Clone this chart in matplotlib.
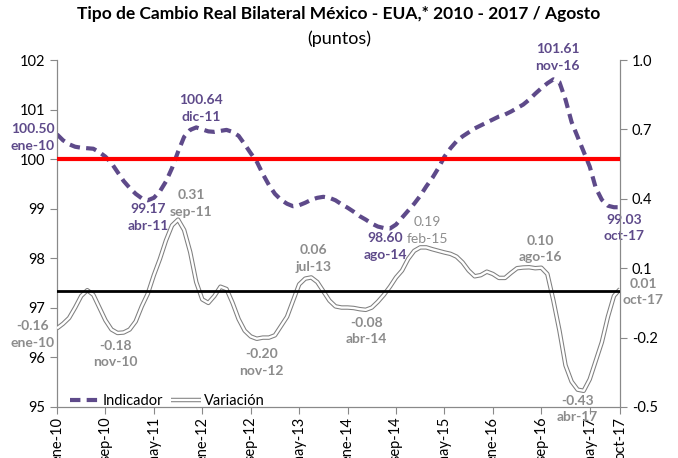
import matplotlib
matplotlib.use("Agg")
import matplotlib.pyplot as plt
from matplotlib.lines import Line2D
import numpy as np

plt.rcParams['font.family'] = ['Lato', 'DejaVu Sans']

# Monthly data, ene-10 .. oct-17
indicador = [100.50, 100.38, 100.30, 100.25, 100.23, 100.22, 100.21, 100.14, 100.05, 99.92,
             99.74, 99.56, 99.42, 99.30, 99.21, 99.17, 99.22, 99.35, 99.55, 99.82,
             100.15, 100.45, 100.59, 100.64, 100.60, 100.56, 100.55, 100.57, 100.59, 100.55,
             100.47, 100.30, 100.12, 99.95, 99.70, 99.48, 99.30, 99.18, 99.10, 99.05,
             99.07, 99.12, 99.18, 99.22, 99.24, 99.22, 99.17, 99.09, 99.02, 98.94,
             98.85, 98.78, 98.70, 98.64, 98.61, 98.60, 98.68, 98.82, 98.96, 99.10,
             99.26, 99.45, 99.62, 99.82, 100.05, 100.22, 100.36, 100.46, 100.54, 100.62,
             100.68, 100.74, 100.80, 100.86, 100.90, 100.96, 101.03, 101.10, 101.20, 101.32,
             101.43, 101.53, 101.61, 101.55, 101.20, 100.75, 100.45, 100.15, 99.85, 99.42,
             99.18, 99.06, 99.03, 99.03]

variacion = [-0.16, -0.14, -0.115, -0.07, -0.02, 0.005, -0.015, -0.07, -0.125, -0.165,
             -0.18, -0.178, -0.165, -0.13, -0.065, -0.01, 0.07, 0.14, 0.22, 0.285,
             0.31, 0.265, 0.17, 0.04, -0.035, -0.05, -0.02, 0.02, 0.01, -0.05,
             -0.12, -0.17, -0.195, -0.205, -0.20, -0.20, -0.19, -0.15, -0.11, -0.04,
             0.03, 0.055, 0.06, 0.04, 0.0, -0.04, -0.065, -0.07, -0.07, -0.072,
             -0.077, -0.08, -0.07, -0.045, -0.015, 0.02, 0.06, 0.09, 0.14, 0.175,
             0.19, 0.19, 0.182, 0.175, 0.168, 0.162, 0.15, 0.125, 0.09, 0.065,
             0.07, 0.085, 0.075, 0.058, 0.058, 0.08, 0.10, 0.103, 0.104, 0.10,
             0.102, 0.075, -0.04, -0.17, -0.32, -0.39, -0.425, -0.43, -0.38, -0.30,
             -0.22, -0.11, -0.02, 0.01]

tick_labels = ['ene-10', 'sep-10', 'may-11', 'ene-12', 'sep-12', 'may-13', 'ene-14',
               'sep-14', 'may-15', 'ene-16', 'sep-16', 'may-17', 'oct-17']

# labelled points: (month index, text, offset in pixels)
ind_notes = [(0, '100.50\nene-10', (-24, -3)), (15, '99.17\nabr-11', (0, -17)),
             (23, '100.64\ndic-11', (5, 19)), (55, '98.60\nago-14', (-5, -18)),
             (82, '101.61\nnov-16', (4, 22)), (93, '99.03\noct-17', (4, -21))]
var_notes = [(0, '-0.16\nene-10', (-24, -6)), (10, '-0.18\nnov-10', (-2, -21)),
             (20, '0.31\nsep-11', (13, 16)), (34, '-0.20\nnov-12', (-1, -25)),
             (42, '0.06\njul-13', (2, 19)), (51, '-0.08\nabr-14', (1, -21)),
             (61, '0.19\nfeb-15', (1, 17)), (79, '0.10\nago-16', (5, 19)),
             (87, '-0.43\nabr-17', (-6, -18)), (93, '0.01\noct-17', (23, -3))]

purple = '#5e4a8a'
gray_txt = '#8c8c8c'
spine_c = '#898989'

x = np.arange(len(indicador))

fig = plt.figure(figsize=(6.78, 4.58), dpi=100)
ax = fig.add_axes([57 / 678, 1 - 407 / 458, (620 - 57) / 678, (407 - 60) / 458])
ax2 = ax.twinx()

l1, = ax.plot(x, indicador, color=purple, lw=3, dashes=(2.5, 1.5), zorder=3)
g, = ax2.plot(x, variacion, color='#7f7f7f', lw=3.2, zorder=3, solid_capstyle='butt')
w, = ax2.plot(x, variacion, color='white', lw=1.7, zorder=4, solid_capstyle='butt')

# reference lines on top
ax2.add_line(Line2D([0, 1], [100, 100], transform=ax.get_yaxis_transform(),
                    color='#ff0000', lw=3, zorder=6))
ax2.axhline(0, color='black', lw=2, zorder=6)

ax.set_xlim(0, len(indicador) - 1)
ax.set_ylim(95, 102)
ax2.set_ylim(-0.5, 1.0)
ax.set_yticks(np.arange(95, 103, 1))
ax2.set_yticks([-0.5, -0.2, 0.1, 0.4, 0.7, 1.0])
ax2.set_yticklabels(['-0.5', '-0.2', '0.1', '0.4', '0.7', '1.0'])
ticks = list(range(0, 89, 8)) + [len(indicador) - 1]
ax.set_xticks(ticks)
ax.set_xticklabels(tick_labels, rotation=90)

for a in (ax, ax2):
    a.spines['top'].set_visible(False)
    for s in ('left', 'right', 'bottom'):
        a.spines[s].set_color(spine_c)
    a.tick_params(colors=spine_c, labelcolor='black', labelsize=10.5, length=5, direction='out')
ax.tick_params(axis='x', labelsize=10.5, pad=2)

for i, t, off in ind_notes:
    ax.annotate(t, (x[i], indicador[i]), xytext=off, textcoords='offset pixels',
                ha='center', va='center', color=purple, fontsize=10, fontweight='bold',
                linespacing=1.45, annotation_clip=False, zorder=7)
for i, t, off in var_notes:
    ax2.annotate(t, (x[i], variacion[i]), xytext=off, textcoords='offset pixels',
                 ha='center', va='center', color=gray_txt, fontsize=10,
                 fontweight='normal' if i == 61 else 'bold',
                 linespacing=1.45, annotation_clip=False, zorder=7)

ax2.legend([l1, (g, w)], ['Indicador', 'Variación'], loc='lower left',
           bbox_to_anchor=(0.0, -0.04), ncol=2, frameon=False, fontsize=10.5,
           handlelength=2.0, handletextpad=0.2, columnspacing=0.6)

fig.text(0.5, 1 - 14 / 458, 'Tipo de Cambio Real Bilateral México - EUA,* 2010 - 2017 / Agosto',
         ha='center', va='center', fontsize=12.5, fontweight='bold')
fig.text(0.5, 1 - 39 / 458, '(puntos)', ha='center', va='center', fontsize=13)

fig.savefig('out.png', dpi=100)
